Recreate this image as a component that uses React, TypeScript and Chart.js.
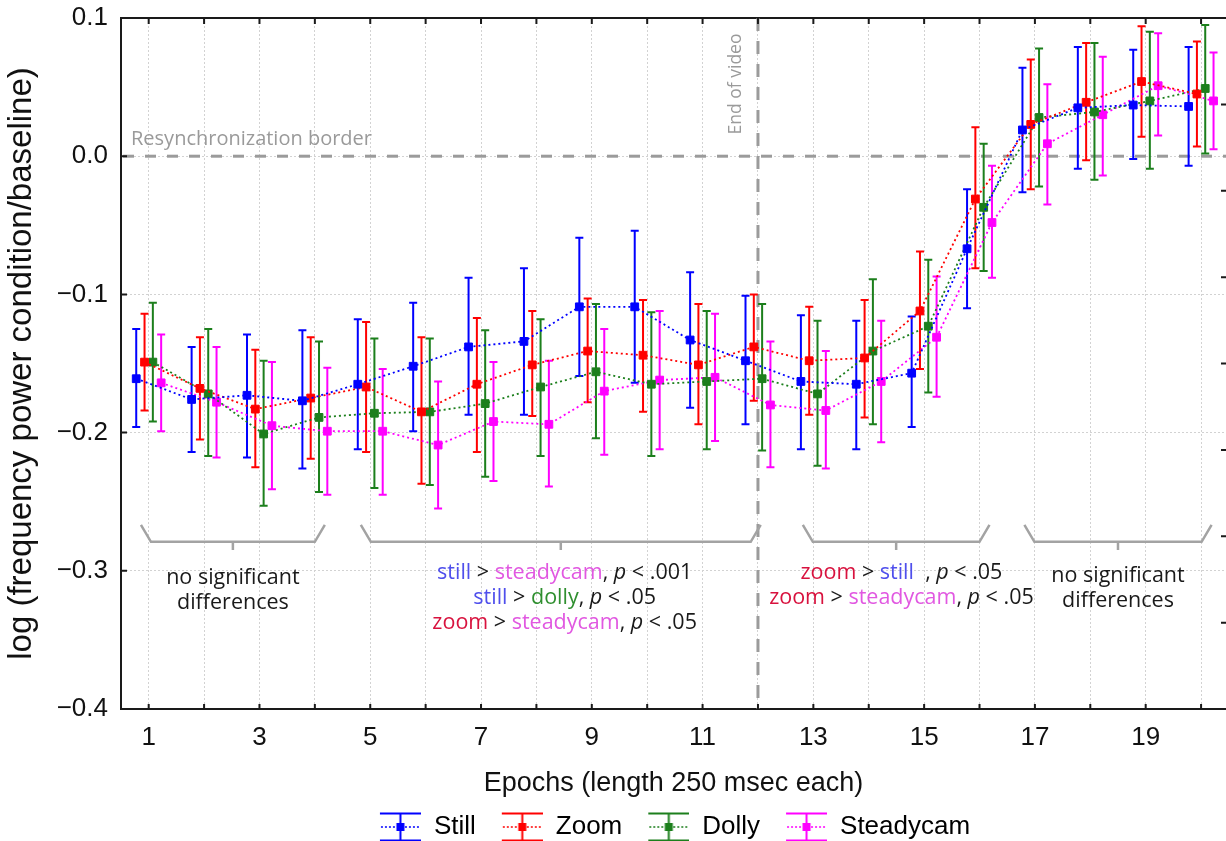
import React, { useEffect, useRef } from 'react';
import { Chart, registerables } from 'chart.js';

Chart.register(...registerables);

// ---------------- data ----------------
const epochs = [1, 2, 3, 4, 5, 6, 7, 8, 9, 10, 11, 12, 13, 14, 15, 16, 17, 18, 19, 20];
const xTickLabels = ['1', '', '3', '', '5', '', '7', '', '9', '', '11', '', '13', '', '15', '', '17', '', '19', ''];
const yTickValues = [-0.4, -0.3, -0.2, -0.1, 0, 0.1];
const yTickLabels = ['\u22120.4', '\u22120.3', '\u22120.2', '\u22120.1', '0.0', '0.1'];
const rightTickValues = [1, 2, 3, 4, 5, 6, 7];
const seriesLabels = ['Still', 'Zoom', 'Dolly', 'Steadycam'];

const stillMean = [-0.161, -0.176, -0.173, -0.177, -0.165, -0.152, -0.138, -0.134, -0.109, -0.109, -0.133, -0.148, -0.163, -0.165, -0.157, -0.067, 0.019, 0.035, 0.037, 0.036];
const stillUpper = [-0.125, -0.138, -0.129, -0.126, -0.118, -0.106, -0.088, -0.081, -0.059, -0.054, -0.084, -0.101, -0.115, -0.119, -0.116, -0.024, 0.064, 0.079, 0.077, 0.079];
const stillLower = [-0.196, -0.214, -0.218, -0.226, -0.212, -0.199, -0.187, -0.187, -0.159, -0.164, -0.182, -0.194, -0.212, -0.212, -0.196, -0.110, -0.026, -0.009, -0.002, -0.007];

const zoomMean = [-0.149, -0.168, -0.183, -0.175, -0.167, -0.185, -0.165, -0.151, -0.141, -0.144, -0.151, -0.138, -0.148, -0.146, -0.112, -0.031, 0.023, 0.039, 0.054, 0.045];
const zoomUpper = [-0.114, -0.131, -0.140, -0.131, -0.120, -0.131, -0.117, -0.112, -0.103, -0.104, -0.107, -0.100, -0.109, -0.104, -0.069, 0.021, 0.070, 0.082, 0.094, 0.083];
const zoomLower = [-0.184, -0.205, -0.225, -0.219, -0.214, -0.237, -0.214, -0.188, -0.178, -0.185, -0.194, -0.177, -0.187, -0.189, -0.154, -0.081, -0.024, -0.003, 0.014, 0.007];

const dollyMean = [-0.149, -0.172, -0.201, -0.189, -0.186, -0.185, -0.179, -0.167, -0.156, -0.165, -0.163, -0.161, -0.172, -0.141, -0.123, -0.037, 0.028, 0.032, 0.040, 0.049];
const dollyUpper = [-0.106, -0.125, -0.148, -0.134, -0.132, -0.132, -0.126, -0.118, -0.107, -0.113, -0.112, -0.107, -0.119, -0.089, -0.075, 0.009, 0.078, 0.082, 0.090, 0.095];
const dollyLower = [-0.192, -0.217, -0.253, -0.243, -0.240, -0.238, -0.232, -0.217, -0.204, -0.217, -0.212, -0.213, -0.224, -0.194, -0.171, -0.083, -0.022, -0.017, -0.009, 0.002];

const steadyMean = [-0.164, -0.178, -0.195, -0.199, -0.199, -0.209, -0.192, -0.194, -0.170, -0.162, -0.160, -0.180, -0.184, -0.163, -0.131, -0.048, 0.009, 0.030, 0.051, 0.040];
const steadyUpper = [-0.129, -0.138, -0.149, -0.153, -0.154, -0.163, -0.149, -0.148, -0.125, -0.112, -0.114, -0.134, -0.141, -0.119, -0.087, -0.007, 0.052, 0.072, 0.089, 0.075];
const steadyLower = [-0.199, -0.218, -0.241, -0.245, -0.245, -0.255, -0.235, -0.239, -0.216, -0.212, -0.206, -0.225, -0.226, -0.207, -0.174, -0.088, -0.035, -0.014, 0.015, 0.005];

const resyncLevel = 0;
const endOfVideoEpoch = 12;
const bracketFrom = [0.86, 4.83, 12.81, 16.81];
const bracketTo = [4.18, 12.05, 16.18, 20.19];
const bracketTextCenter = [2.52, 8.51, 14.59, 18.5];
const bracketTextTop = [-0.305, -0.3015, -0.3015, -0.3035];

// ---------------- styles ----------------
const AXIS_FONT = "'Liberation Sans', Arial, sans-serif";
const NOTE_FONT = "'Open Sans', sans-serif";
const seriesColors = ['#0000ff', '#ff0000', '#1c7f1c', '#ff00ff'];
const xOffsets = [-0.225, -0.075, 0.075, 0.225];
const T_BLUE = '#4f4fec';
const T_RED = '#d8123e';
const T_GREEN = '#2f8f2f';
const T_PINK = '#e158e1';
const T_BLACK = '#1a1a1a';

type Seg = [string, string, boolean?];
const bracketLines: Seg[][][] = [
  [[['no significant', T_BLACK]], [['differences', T_BLACK]]],
  [
    [['still', T_BLUE], [' > ', T_BLACK], ['steadycam', T_PINK], [', ', T_BLACK], ['p', T_BLACK, true], [' < .001', T_BLACK]],
    [['still', T_BLUE], [' > ', T_BLACK], ['dolly', T_GREEN], [', ', T_BLACK], ['p', T_BLACK, true], [' < .05', T_BLACK]],
    [['zoom', T_RED], [' > ', T_BLACK], ['steadycam', T_PINK], [', ', T_BLACK], ['p', T_BLACK, true], [' < .05', T_BLACK]],
  ],
  [
    [['zoom', T_RED], [' > ', T_BLACK], ['still', T_BLUE], ['  , ', T_BLACK], ['p', T_BLACK, true], [' < .05', T_BLACK]],
    [['zoom', T_RED], [' > ', T_BLACK], ['steadycam', T_PINK], [', ', T_BLACK], ['p', T_BLACK, true], [' < .05', T_BLACK]],
  ],
  [[['no significant', T_BLACK]], [['differences', T_BLACK]]],
];

const series = [
  { label: seriesLabels[0], mean: stillMean, upper: stillUpper, lower: stillLower },
  { label: seriesLabels[1], mean: zoomMean, upper: zoomUpper, lower: zoomLower },
  { label: seriesLabels[2], mean: dollyMean, upper: dollyUpper, lower: dollyLower },
  { label: seriesLabels[3], mean: steadyMean, upper: steadyUpper, lower: steadyLower },
];

function makeIcon(color: string): HTMLCanvasElement {
  const c = document.createElement('canvas');
  c.width = 63;
  c.height = 30;
  const g = c.getContext('2d')!;
  g.strokeStyle = color;
  g.lineWidth = 2;
  g.beginPath();
  g.moveTo(22, 1.5); g.lineTo(63, 1.5);
  g.moveTo(22, 28.5); g.lineTo(63, 28.5);
  g.moveTo(42.5, 1.5); g.lineTo(42.5, 28.5);
  g.stroke();
  g.setLineDash([2, 2]);
  g.lineWidth = 1.5;
  g.beginPath();
  g.moveTo(23, 15); g.lineTo(63, 15);
  g.stroke();
  g.fillStyle = color;
  g.fillRect(38.5, 11, 8, 8);
  return c;
}

function drawRich(ctx: CanvasRenderingContext2D, segs: Seg[], cx: number, cy: number) {
  const fontFor = (s: Seg) => `${s[2] ? 'italic ' : ''}21.5px ${NOTE_FONT}`;
  let total = 0;
  segs.forEach((s) => { ctx.font = fontFor(s); total += ctx.measureText(s[0]).width; });
  let x = cx - total / 2;
  ctx.textAlign = 'left';
  ctx.textBaseline = 'middle';
  segs.forEach((s) => {
    ctx.font = fontFor(s);
    ctx.fillStyle = s[1];
    ctx.fillText(s[0], x, cy);
    x += ctx.measureText(s[0]).width;
  });
}

const decorPlugin = {
  id: 'decor',
  afterLayout(chart: any) {
    const lg = chart.legend;
    if (lg) {
      lg.left += 51; lg.right += 51;
      lg.top += 9; lg.bottom += 9;
    }
  },
  beforeDatasetsDraw(chart: any) {
    const { ctx, chartArea: ca, scales } = chart;
    const xs = scales.x, ys = scales.y;
    ctx.save();
    // dashed reference lines
    ctx.strokeStyle = '#9b9b9b';
    ctx.lineWidth = 3;
    ctx.setLineDash([11, 11]);
    const y0 = ys.getPixelForValue(resyncLevel);
    ctx.beginPath(); ctx.moveTo(ca.left + 2, y0); ctx.lineTo(ca.right, y0); ctx.stroke();
    ctx.setLineDash([13, 10]);
    const xv = xs.getPixelForValue(endOfVideoEpoch);
    ctx.beginPath(); ctx.moveTo(xv, ca.top); ctx.lineTo(xv, ca.bottom); ctx.stroke();
    ctx.setLineDash([]);

    // labels of the reference lines
    ctx.fillStyle = '#9a9a9a';
    ctx.font = `20px ${NOTE_FONT}`;
    ctx.textAlign = 'left';
    ctx.textBaseline = 'alphabetic';
    ctx.fillText('Resynchronization border', ca.left + 10, y0 - 11);
    ctx.save();
    ctx.translate(xv - 22, ca.top + 66);
    ctx.rotate(-Math.PI / 2);
    ctx.font = `17.5px ${NOTE_FONT}`;
    ctx.textAlign = 'center';
    ctx.textBaseline = 'middle';
    ctx.fillText('End of video', 0, 0);
    ctx.restore();

    // brackets + notes
    const yTop = ys.getPixelForValue(-0.2667);
    const yBar = ys.getPixelForValue(-0.279);
    const yTick = ys.getPixelForValue(-0.285);
    bracketFrom.forEach((f, k) => {
      const xa = xs.getPixelForValue(f);
      const xb = xs.getPixelForValue(bracketTo[k]);
      const mid = (xa + xb) / 2;
      ctx.strokeStyle = '#a3a3a3';
      ctx.lineWidth = 2.5;
      ctx.beginPath();
      ctx.moveTo(xa, yTop); ctx.lineTo(xa + 10, yBar); ctx.lineTo(xb - 10, yBar); ctx.lineTo(xb, yTop);
      ctx.moveTo(mid, yBar); ctx.lineTo(mid, yTick);
      ctx.stroke();
      const ty = ys.getPixelForValue(bracketTextTop[k]);
      const tx = xs.getPixelForValue(bracketTextCenter[k]);
      bracketLines[k].forEach((line, li) => drawRich(ctx, line, tx, ty + li * 25));
    });

    // error bars
    series.forEach((s, i) => {
      ctx.strokeStyle = seriesColors[i];
      ctx.lineWidth = 2;
      epochs.forEach((e, j) => {
        const x = xs.getPixelForValue(e + xOffsets[i]);
        const yh = ys.getPixelForValue(s.upper[j]);
        const yl = ys.getPixelForValue(s.lower[j]);
        ctx.beginPath();
        ctx.moveTo(x, yh); ctx.lineTo(x, yl);
        ctx.moveTo(x - 4, yh); ctx.lineTo(x + 4, yh);
        ctx.moveTo(x - 4, yl); ctx.lineTo(x + 4, yl);
        ctx.stroke();
      });
    });
    ctx.restore();
  },
  afterDraw(chart: any) {
    const { ctx, chartArea: ca, scales } = chart;
    const xs = scales.x, ys = scales.y, y2 = scales.y2;
    ctx.save();
    ctx.strokeStyle = '#1a1a1a';
    ctx.lineWidth = 2;
    ctx.beginPath();
    epochs.forEach((e) => {
      const x = xs.getPixelForValue(e);
      ctx.moveTo(x, ca.top); ctx.lineTo(x, ca.top + 6);
      ctx.moveTo(x, ca.bottom); ctx.lineTo(x, ca.bottom - 5);
    });
    yTickValues.forEach((v) => {
      const y = ys.getPixelForValue(v);
      ctx.moveTo(ca.left, y); ctx.lineTo(ca.left + 6, y);
    });
    rightTickValues.forEach((v) => {
      const y = y2.getPixelForValue(v);
      ctx.moveTo(ca.right - 5, y); ctx.lineTo(ca.right, y);
    });
    ctx.stroke();
    ctx.restore();
  },
};

export default function App() {
  const ref = useRef<HTMLCanvasElement | null>(null);

  useEffect(() => {
    if (!ref.current) return;
    const icons = seriesColors.map((c) => makeIcon(c));
    const datasets = series.map((s, i) => ({
      label: s.label,
      data: epochs.map((e, j) => ({ x: e + xOffsets[i], y: s.mean[j] })),
      xAxisID: 'x',
      yAxisID: 'y',
      borderColor: seriesColors[i],
      backgroundColor: seriesColors[i],
      borderWidth: 1.8,
      borderDash: [2, 3],
      pointStyle: 'rect',
      pointRadius: 5.5,
      pointBorderWidth: 1,
      pointBorderColor: seriesColors[i],
      pointBackgroundColor: seriesColors[i],
      tension: 0,
      fill: false,
    }));

    const chart = new Chart(ref.current, {
      type: 'line',
      data: { datasets },
      plugins: [decorPlugin],
      options: {
        animation: false,
        responsive: false,
        devicePixelRatio: 1,
        events: [],
        layout: { autoPadding: false, padding: { top: 18, right: 0, left: 0, bottom: 0 } },
        plugins: {
          tooltip: { enabled: false },
          legend: {
            position: 'bottom',
            labels: {
              usePointStyle: true,
              pointStyleWidth: 63,
              padding: 4,
              color: '#000',
              font: { size: 26, family: AXIS_FONT },
              generateLabels: () =>
                series.map((s, i) => ({
                  text: s.label,
                  fillStyle: seriesColors[i],
                  strokeStyle: seriesColors[i],
                  lineWidth: 0,
                  pointStyle: icons[i],
                  hidden: false,
                  datasetIndex: i,
                  fontColor: '#000',
                })),
            },
          },
        },
        scales: {
          x: {
            type: 'linear',
            position: 'bottom',
            min: 0.5,
            max: 20.45,
            afterBuildTicks: (s: any) => { s.ticks = epochs.map((v) => ({ value: v })); },
            afterFit: (s: any) => { s.height = 92; },
            ticks: {
              autoSkip: false,
              maxRotation: 0,
              padding: 0,
              color: '#111',
              font: { size: 26, family: AXIS_FONT },
              callback: (_v: any, i: number) => xTickLabels[i],
            },
            grid: { color: '#d2d2d2', lineWidth: 1, drawTicks: true, tickLength: 13, tickColor: 'rgba(0,0,0,0)' },
            border: { display: true, color: '#1a1a1a', width: 2, dash: [2, 2] },
            title: {
              display: true,
              text: 'Epochs (length 250 msec each)',
              color: '#111',
              font: { size: 27, family: AXIS_FONT, lineHeight: 1.0 },
              padding: { top: 0, bottom: 4 },
            },
          },
          x2: {
            type: 'linear',
            position: 'top',
            min: 0.5,
            max: 20.45,
            afterBuildTicks: (s: any) => { s.ticks = epochs.map((v) => ({ value: v })); },
            afterFit: (s: any) => { s.height = 0; },
            ticks: { display: false },
            grid: { display: false, drawTicks: false },
            border: { display: true, color: '#1a1a1a', width: 2 },
          },
          y: {
            type: 'linear',
            position: 'left',
            min: -0.4,
            max: 0.1,
            afterBuildTicks: (s: any) => { s.ticks = yTickValues.map((v) => ({ value: v })); },
            afterFit: (s: any) => { s.width = 121; },
            ticks: {
              padding: 0,
              color: '#111',
              font: { size: 26, family: AXIS_FONT },
              callback: (_v: any, i: number) => yTickLabels[i],
            },
            grid: { color: '#d2d2d2', lineWidth: 1, drawTicks: true, tickLength: 13, tickColor: 'rgba(0,0,0,0)' },
            border: { display: true, color: '#1a1a1a', width: 2, dash: [2, 2] },
            title: {
              display: true,
              text: 'log (frequency power condition/baseline)',
              color: '#111',
              font: { size: 33, family: AXIS_FONT },
              padding: { top: 2, bottom: 0 },
            },
          },
          y2: {
            type: 'linear',
            position: 'right',
            min: 0,
            max: 8,
            afterFit: (s: any) => { s.width = 0; },
            ticks: { display: false },
            grid: { display: false, drawTicks: false },
            border: { display: false },
          },
        },
      } as any,
    });
    return () => chart.destroy();
  }, []);

  return (
    <canvas
      ref={ref}
      width={1226}
      height={841}
      style={{ position: 'absolute', left: 0, top: 0, width: 1226, height: 841 }}
    />
  );
}
